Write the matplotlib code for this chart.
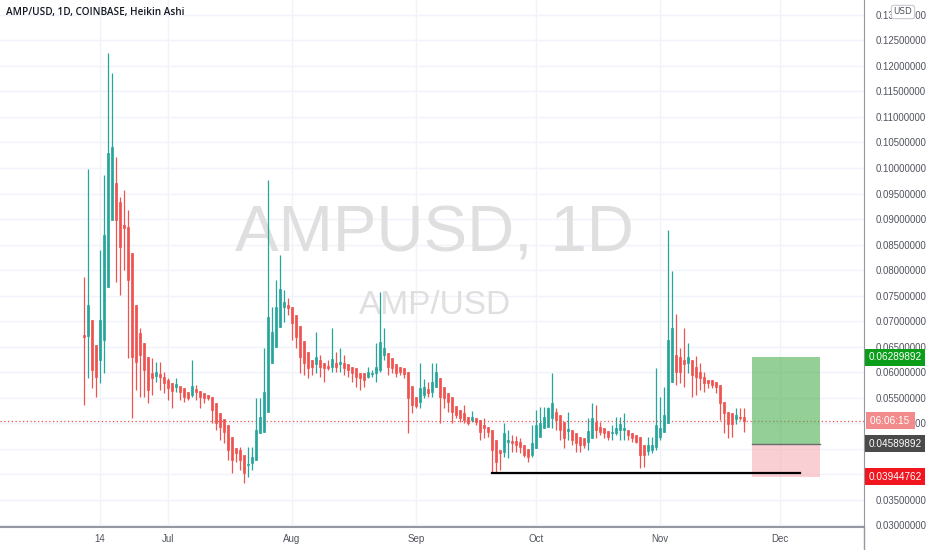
import matplotlib
matplotlib.use("Agg")
import matplotlib.pyplot as plt
import matplotlib.dates as mdates
import matplotlib.patches as mpatches
from matplotlib.lines import Line2D
import numpy as np
import pandas as pd

# ---------------- data (AMP/USD daily Heikin Ashi) ----------------
start_date = "2021-06-10"
opens = [0.0673, 0.0671, 0.0702, 0.0653, 0.0624, 0.0663, 0.0767, 0.0898, 0.0971, 0.0933,
         0.0888, 0.0884, 0.0833, 0.0731, 0.0676, 0.0657, 0.0629, 0.0598, 0.0592, 0.0596,
         0.0590, 0.0584, 0.0578, 0.0571, 0.0573, 0.0569, 0.0561, 0.0555, 0.0567, 0.0563,
         0.0559, 0.0555, 0.0551, 0.0539, 0.0520, 0.0508, 0.0496, 0.0473, 0.0451, 0.0447,
         0.0437, 0.0418, 0.0422, 0.0427, 0.0480, 0.0482, 0.0522, 0.0618, 0.0649, 0.0688,
         0.0727, 0.0731, 0.0727, 0.0712, 0.0690, 0.0661, 0.0639, 0.0624, 0.0616, 0.0624,
         0.0618, 0.0612, 0.0610, 0.0618, 0.0616, 0.0618, 0.0616, 0.0610, 0.0608, 0.0598,
         0.0598, 0.0590, 0.0596, 0.0598, 0.0604, 0.0633, 0.0637, 0.0627, 0.0616, 0.0610,
         0.0608, 0.0600, 0.0573, 0.0551, 0.0541, 0.0555, 0.0567, 0.0561, 0.0571, 0.0588,
         0.0571, 0.0559, 0.0551, 0.0533, 0.0525, 0.0520, 0.0512, 0.0506, 0.0510, 0.0506,
         0.0496, 0.0492, 0.0486, 0.0467, 0.0447, 0.0443, 0.0463, 0.0465, 0.0465, 0.0463,
         0.0457, 0.0449, 0.0437, 0.0451, 0.0473, 0.0490, 0.0492, 0.0510, 0.0522, 0.0516,
         0.0502, 0.0484, 0.0486, 0.0480, 0.0473, 0.0471, 0.0463, 0.0471, 0.0502, 0.0492,
         0.0490, 0.0484, 0.0480, 0.0480, 0.0486, 0.0486, 0.0486, 0.0480, 0.0476, 0.0473,
         0.0457, 0.0445, 0.0447, 0.0453, 0.0473, 0.0482, 0.0500, 0.0580, 0.0633, 0.0629,
         0.0624, 0.0618, 0.0624, 0.0610, 0.0600, 0.0590, 0.0584, 0.0584, 0.0580, 0.0575,
         0.0541, 0.0522, 0.0520, 0.0508, 0.0512, 0.0512]
closes = [0.0669, 0.0731, 0.0604, 0.0590, 0.0702, 0.0869, 0.1029, 0.1041, 0.0898, 0.0845,
          0.0882, 0.0780, 0.0629, 0.0620, 0.0633, 0.0604, 0.0565, 0.0588, 0.0600, 0.0590,
          0.0578, 0.0569, 0.0563, 0.0576, 0.0561, 0.0551, 0.0549, 0.0573, 0.0561, 0.0551,
          0.0549, 0.0549, 0.0525, 0.0500, 0.0492, 0.0482, 0.0447, 0.0427, 0.0441, 0.0427,
          0.0402, 0.0420, 0.0433, 0.0486, 0.0512, 0.0561, 0.0708, 0.0678, 0.0727, 0.0763,
          0.0737, 0.0725, 0.0696, 0.0669, 0.0629, 0.0618, 0.0608, 0.0610, 0.0629, 0.0610,
          0.0608, 0.0608, 0.0625, 0.0610, 0.0620, 0.0608, 0.0604, 0.0598, 0.0590, 0.0588,
          0.0584, 0.0600, 0.0598, 0.0610, 0.0659, 0.0647, 0.0610, 0.0608, 0.0598, 0.0600,
          0.0596, 0.0549, 0.0535, 0.0533, 0.0569, 0.0571, 0.0559, 0.0580, 0.0600, 0.0551,
          0.0549, 0.0541, 0.0522, 0.0516, 0.0510, 0.0506, 0.0500, 0.0512, 0.0502, 0.0482,
          0.0490, 0.0482, 0.0447, 0.0424, 0.0441, 0.0480, 0.0467, 0.0461, 0.0457, 0.0453,
          0.0437, 0.0433, 0.0461, 0.0496, 0.0500, 0.0512, 0.0529, 0.0539, 0.0506, 0.0486,
          0.0471, 0.0488, 0.0467, 0.0461, 0.0457, 0.0457, 0.0484, 0.0510, 0.0486, 0.0482,
          0.0480, 0.0473, 0.0482, 0.0490, 0.0498, 0.0490, 0.0476, 0.0471, 0.0463, 0.0437,
          0.0437, 0.0457, 0.0457, 0.0496, 0.0490, 0.0516, 0.0663, 0.0686, 0.0600, 0.0600,
          0.0616, 0.0629, 0.0594, 0.0590, 0.0588, 0.0578, 0.0578, 0.0575, 0.0571, 0.0539,
          0.0520, 0.0498, 0.0498, 0.0516, 0.0510, 0.0504]
highs = [0.0786, 0.0998, 0.0702, 0.0653, 0.0839, 0.0986, 0.1225, 0.1186, 0.1022, 0.0943,
         0.0957, 0.0918, 0.0833, 0.0731, 0.0686, 0.0657, 0.0629, 0.0627, 0.0620, 0.0620,
         0.0600, 0.0588, 0.0578, 0.0588, 0.0573, 0.0569, 0.0561, 0.0624, 0.0575, 0.0563,
         0.0559, 0.0555, 0.0551, 0.0539, 0.0520, 0.0508, 0.0496, 0.0473, 0.0451, 0.0453,
         0.0437, 0.0453, 0.0453, 0.0549, 0.0549, 0.0647, 0.0976, 0.0727, 0.0780, 0.0829,
         0.0761, 0.0745, 0.0727, 0.0712, 0.0690, 0.0661, 0.0639, 0.0624, 0.0678, 0.0633,
         0.0618, 0.0624, 0.0686, 0.0639, 0.0647, 0.0633, 0.0616, 0.0610, 0.0608, 0.0598,
         0.0598, 0.0610, 0.0604, 0.0657, 0.0757, 0.0686, 0.0637, 0.0627, 0.0616, 0.0610,
         0.0608, 0.0600, 0.0573, 0.0551, 0.0618, 0.0586, 0.0580, 0.0618, 0.0618, 0.0588,
         0.0571, 0.0559, 0.0551, 0.0533, 0.0525, 0.0535, 0.0512, 0.0524, 0.0510, 0.0506,
         0.0510, 0.0492, 0.0486, 0.0467, 0.0447, 0.0500, 0.0486, 0.0476, 0.0475, 0.0471,
         0.0457, 0.0449, 0.0496, 0.0525, 0.0531, 0.0531, 0.0531, 0.0598, 0.0529, 0.0516,
         0.0502, 0.0522, 0.0486, 0.0480, 0.0473, 0.0471, 0.0510, 0.0539, 0.0535, 0.0502,
         0.0490, 0.0484, 0.0496, 0.0512, 0.0512, 0.0520, 0.0486, 0.0480, 0.0476, 0.0473,
         0.0457, 0.0473, 0.0473, 0.0608, 0.0551, 0.0571, 0.0878, 0.0798, 0.0714, 0.0647,
         0.0686, 0.0657, 0.0624, 0.0631, 0.0618, 0.0600, 0.0584, 0.0584, 0.0580, 0.0575,
         0.0541, 0.0522, 0.0520, 0.0529, 0.0529, 0.0529]
lows = [0.0535, 0.0588, 0.0569, 0.0551, 0.0578, 0.0598, 0.0767, 0.0898, 0.0776, 0.0751,
        0.0800, 0.0627, 0.0510, 0.0565, 0.0551, 0.0551, 0.0539, 0.0555, 0.0580, 0.0565,
        0.0559, 0.0545, 0.0529, 0.0561, 0.0545, 0.0541, 0.0545, 0.0551, 0.0545, 0.0529,
        0.0539, 0.0545, 0.0500, 0.0486, 0.0467, 0.0461, 0.0427, 0.0402, 0.0424, 0.0408,
        0.0382, 0.0394, 0.0408, 0.0427, 0.0480, 0.0482, 0.0522, 0.0618, 0.0649, 0.0688,
        0.0698, 0.0712, 0.0663, 0.0647, 0.0598, 0.0594, 0.0588, 0.0594, 0.0598, 0.0590,
        0.0580, 0.0604, 0.0600, 0.0600, 0.0600, 0.0594, 0.0590, 0.0580, 0.0571, 0.0565,
        0.0571, 0.0588, 0.0590, 0.0580, 0.0600, 0.0624, 0.0594, 0.0598, 0.0590, 0.0594,
        0.0588, 0.0480, 0.0520, 0.0529, 0.0529, 0.0549, 0.0551, 0.0551, 0.0571, 0.0500,
        0.0529, 0.0522, 0.0500, 0.0510, 0.0502, 0.0500, 0.0496, 0.0502, 0.0496, 0.0467,
        0.0471, 0.0473, 0.0402, 0.0402, 0.0408, 0.0433, 0.0431, 0.0443, 0.0443, 0.0441,
        0.0433, 0.0424, 0.0433, 0.0451, 0.0473, 0.0490, 0.0492, 0.0490, 0.0486, 0.0467,
        0.0451, 0.0467, 0.0457, 0.0443, 0.0443, 0.0451, 0.0447, 0.0471, 0.0471, 0.0476,
        0.0471, 0.0467, 0.0467, 0.0476, 0.0467, 0.0467, 0.0467, 0.0463, 0.0461, 0.0412,
        0.0414, 0.0437, 0.0441, 0.0447, 0.0467, 0.0482, 0.0500, 0.0580, 0.0575, 0.0578,
        0.0571, 0.0598, 0.0551, 0.0555, 0.0565, 0.0561, 0.0569, 0.0569, 0.0559, 0.0506,
        0.0480, 0.0471, 0.0473, 0.0498, 0.0506, 0.0482]

# price ticks / x ticks
price_ticks = [0.030, 0.035, 0.040, 0.045, 0.050, 0.055, 0.060, 0.065, 0.070, 0.075,
               0.080, 0.085, 0.090, 0.095, 0.100, 0.105, 0.110, 0.115, 0.120, 0.125, 0.130]
hidden_ticks = [0.040, 0.045]   # fully covered by the position labels
x_tick_dates = ["2021-06-14", "2021-07-01", "2021-08-01", "2021-09-01",
                "2021-10-01", "2021-11-01", "2021-12-01"]
x_tick_labels = ["14", "Jul", "Aug", "Sep", "Oct", "Nov", "Dec"]

# drawings
current_price = 0.0504
countdown = "06:06:15"
pos_start, pos_end = "2021-11-24", "2021-12-11"
entry_price, target_price, stop_price = 0.04589892, 0.06289892, 0.03944762
support_start, support_end, support_price = "2021-09-20", "2021-12-06", 0.0402

# ---------------- figure ----------------
TEAL = "#26a69a"
RED = "#ef5350"
GRID = "#f0f3fa"
TXT = "#50535e"
NARROW = ["Liberation Sans Narrow", "Liberation Sans", "DejaVu Sans"]

dates = pd.date_range(start_date, periods=len(opens), freq="D")
o = np.array(opens); c = np.array(closes); h = np.array(highs); l = np.array(lows)
up = c >= o
cols = np.where(up, TEAL, RED)

fig = plt.figure(figsize=(9.32, 5.5), dpi=100)
ax = fig.add_axes([0, 23 / 550, 864 / 932, 527 / 550])
ax.set_facecolor("white")

xnum = mdates.date2num(dates)
ax.set_xlim(xnum[0] - 21, xnum[0] + 195)
ax.set_ylim(0.02961, 0.13294)

# grid
for t in price_ticks:
    ax.axhline(t, color=GRID, lw=1.0, zorder=0)
for d in x_tick_dates:
    ax.axvline(mdates.datestr2num(d), color=GRID, lw=1.0, zorder=0)

# watermark
ax.text(0.503, 0.555, "AMPUSD, 1D", transform=ax.transAxes, ha="center", va="center",
        fontsize=47, color="#dfdfdf", family="Liberation Sans", zorder=0.5)
ax.text(0.503, 0.420, "AMP/USD", transform=ax.transAxes, ha="center", va="center",
        fontsize=24, color="#dfdfdf", family="Liberation Sans", zorder=0.5)

# current price dotted line
ax.axhline(current_price, color=RED, lw=0.9, ls=(0, (1, 2)), zorder=1)

# candles
ax.vlines(xnum, l, h, colors=cols, lw=0.9, zorder=2)
body = np.maximum(np.abs(c - o), 0.00018)
ax.bar(xnum, body, bottom=np.minimum(o, c), width=0.62, color=cols,
       edgecolor=cols, lw=0.5, zorder=3)

# long position tool
x0 = mdates.datestr2num(pos_start); x1 = mdates.datestr2num(pos_end)
ax.add_patch(mpatches.Rectangle((x0, entry_price), x1 - x0, target_price - entry_price,
                                facecolor="#4caf50", alpha=0.6, lw=0, zorder=4))
ax.add_patch(mpatches.Rectangle((x0, stop_price), x1 - x0, entry_price - stop_price,
                                facecolor="#f7a9af", alpha=0.55, lw=0, zorder=4))
ax.plot([x0, x1], [entry_price, entry_price], color="#6b6b6b", lw=1, zorder=5)

# support line
ax.plot([mdates.datestr2num(support_start), mdates.datestr2num(support_end)],
        [support_price, support_price], color="black", lw=1.6, zorder=5)

# axes styling
for s in ["top", "left"]:
    ax.spines[s].set_visible(False)
ax.spines["right"].set_color("#9598a1")
ax.spines["bottom"].set_color("#9598a1")
ax.spines["bottom"].set_linewidth(1.5)

ax.yaxis.tick_right()
ax.set_yticks(price_ticks)
ax.set_yticklabels(["" if t in hidden_ticks else f"{t:.8f}" for t in price_ticks])
ax.tick_params(axis="y", length=0, pad=8.5, labelsize=6.9, labelcolor=TXT)
ax.set_xticks([mdates.datestr2num(d) for d in x_tick_dates])
ax.set_xticklabels(x_tick_labels)
ax.tick_params(axis="x", length=0, pad=5, labelsize=7.0, labelcolor=TXT)
for lab in ax.get_yticklabels() + ax.get_xticklabels():
    lab.set_family(NARROW)

# right-axis vertical line down to the bottom of the figure
fig.add_artist(Line2D([864 / 932, 864 / 932], [0, 23 / 550], color="#9598a1", lw=1))

# price labels on the right axis
def price_tag(y, text, bg, dx=3):
    ax.annotate(text, xy=(1.0, y), xycoords=("axes fraction", "data"),
                xytext=(dx, 0), textcoords="offset points", ha="left", va="center",
                fontsize=7.2, color="white", family=NARROW,
                bbox=dict(boxstyle="square,pad=0.35", fc=bg, ec="none"),
                annotation_clip=False, zorder=10)

price_tag(target_price, f"{target_price:.8f}", "#0c9d1b")
price_tag(entry_price, f"{entry_price:.8f}", "#4a4a4a")
price_tag(stop_price, f"{stop_price:.8f}", "#f0151e")
price_tag(current_price, countdown + " ", "#f28b8b", dx=4)

# USD badge
fig.text(903 / 932, 1 - 12 / 550, "USD", ha="center", va="center", fontsize=6.3, color=TXT,
         bbox=dict(boxstyle="round,pad=0.25", fc="white", ec="#c8cad0", lw=0.8), zorder=12)

# title
fig.text(6 / 932, 1 - 12 / 550, "AMP/USD, 1D, COINBASE, Heikin Ashi", ha="left", va="center",
         fontsize=7.2, color="#131722", family="Open Sans", fontweight="semibold")

fig.savefig("out.png", dpi=100)
